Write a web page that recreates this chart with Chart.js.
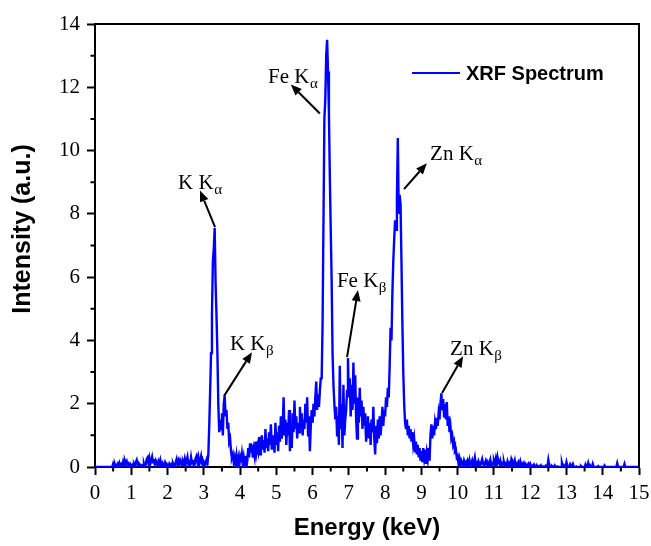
<!DOCTYPE html>
<html><head><meta charset="utf-8">
<script src="https://cdn.jsdelivr.net/npm/chart.js@4"></script>
<style>html,body{margin:0;padding:0;background:#fff}#wrap{width:651px;height:546px;position:relative}</style>
</head><body><div id="wrap"><canvas id="c"></canvas></div>
<script>
// Detector calibration: channel i is at channelStartKeV + i * channelWidthKeV
const channelStartKeV = 0;
const channelWidthKeV = 0.025;

// Intensity (a.u.) per channel (20 channels = 0.5 keV per row)
const intensity = [
  0,0,0,0,0,0,0,0,0,0,0,0,0,0,0,0,0,0,0,0,
  0.1,0.02,0.08,0,0.05,0.1,0,0.12,0.03,0.08,0,0.15,0.05,0.2,0.12,0.18,0.05,0.1,0,0.08,
  0.02,0.06,0,0.1,0.04,0.15,0.22,0.08,0.12,0.03,0.06,0,0.05,0.02,0.1,0,0.08,0.25,0.3,0.12,
  0.28,0.1,0.2,0.32,0.15,0.25,0.08,0.2,0.12,0.05,0.18,0.1,0.22,0.06,0.12,0.02,0.08,0.15,0.05,0.1,
  0.06,0,0.1,0.04,0.08,0.02,0.12,0.05,0,0.15,0.25,0.1,0.2,0.08,0.22,0.15,0.05,0.18,0.1,0.25,
  0.08,0.2,0.32,0.1,0.15,0.05,0.3,0.12,0.22,0.02,0.1,0.28,0.35,0.15,0.3,0.08,0.2,0.34,0.12,0.05,
  0.15,0.05,0.12,0.22,0.1,0.4,1.3,2.4,3.6,4.8,6.5,6.9,7.55,5.8,4.8,3.6,2.0,1.1,1.5,1.2,
  1.7,1.0,2.0,2.25,1.6,1.8,1.2,1.4,0.8,0.9,0.5,0.3,0.4,0.15,0.3,0.1,0.35,0.05,0.25,0,
  0.3,0.15,0.4,0.1,0.3,0.05,0.35,0,0.2,0.6,0.3,0.75,0.45,0.7,0.3,0.55,0.35,0.8,0.45,0.65,
  0.5,0.95,0.4,0.7,1.0,0.55,0.85,0.45,1.2,0.6,0.9,0.5,1.1,0.7,1.35,0.55,0.8,1.0,0.45,1.4,
  0.7,1.1,0.5,1.3,0.8,1.6,0.9,1.2,2.2,1.0,1.5,0.7,1.4,1.0,1.8,0.5,1.3,0.6,1.7,1.1,
  2.1,1.2,1.6,0.9,1.4,1.1,1.9,1.3,1.7,1.0,1.5,1.2,2.0,1.4,2.2,1.0,1.6,0.5,1.3,1.8,
  1.4,2.0,1.6,2.2,2.7,1.8,2.3,1.9,2.4,2.8,2.8,4.5,7.8,11.0,11.6,13.0,13.5,12.5,11.2,9.2,
  7.5,5.9,3.6,2.6,2.0,1.5,1.9,1.0,1.6,0.7,3.2,1.2,2.0,0.6,2.6,1.0,1.5,1.8,2.4,3.44,
  2.2,2.8,1.6,2.6,1.8,3.3,2.0,2.9,1.5,0.9,2.2,1.4,2.5,1.6,2.1,1.2,1.9,1.3,1.7,0.8,
  1.2,1.6,0.9,1.4,0.7,1.5,1.1,1.9,0.9,0.4,1.3,0.75,1.5,0.9,1.6,1.0,1.4,1.9,1.3,1.8,
  1.6,2.2,1.9,2.5,2.2,3.2,4.4,4.0,5.5,6.5,7.2,7.8,7.5,8.5,10.4,8.0,8.6,8.3,6.5,4.6,
  3.0,2.0,1.4,1.2,1.5,1.0,1.3,0.9,1.2,0.8,1.1,0.7,0.9,0.5,0.8,0.4,0.7,0.3,0.6,0.2,
  0.5,0.15,0.6,0.3,0.55,0.1,0.45,0.25,0.6,0.2,1.0,1.35,0.9,1.3,1.0,1.4,1.2,1.55,1.3,1.7,
  1.5,2.0,2.33,1.8,2.15,1.6,2.0,1.5,2.05,1.3,1.6,1.1,1.3,0.9,1.0,0.7,0.8,0.5,0.55,0.3,
  0.35,0.1,0.25,0.05,0.2,0.12,0.05,0.2,0.1,0.15,0.03,0.18,0.08,0.22,0.05,0.1,0.2,0.05,0.15,0.3,
  0.08,0.12,0.02,0.18,0.1,0.05,0.15,0.25,0.1,0.05,0.12,0.2,0.08,0.15,0.02,0.1,0.22,0.05,0.12,0.08,
  0.2,0.1,0.25,0.05,0.3,0.15,0.1,0.2,0.05,0.12,0.08,0.15,0.02,0.1,0.05,0.18,0.08,0.12,0.03,0.2,
  0.05,0.15,0.08,0.2,0.02,0.1,0.05,0.15,0.08,0.18,0.03,0.1,0.05,0.12,0.02,0.08,0,0.05,0.1,0.03,
  0.1,0.02,0,0.05,0.08,0,0.02,0.06,0,0,0.03,0,0.05,0,0.02,0,0,0.04,0,0,
  0.22,0.05,0,0,0.03,0,0,0.05,0,0,0.02,0,0,0,0,0.12,0,0.05,0,0,
  0.15,0.03,0,0,0.08,0,0,0.1,0,0,0,0.02,0,0,0,0,0.03,0,0,0,
  0,0.08,0,0,0.12,0,0.05,0,0,0.1,0,0,0,0,0,0.03,0,0,0,0,
  0,0,0.05,0,0,0,0,0,0,0,0,0,0,0,0,0,0.12,0,0,0,
  0,0,0,0,0.1,0,0,0,0,0,0,0,0,0,0,0,0,0,0,0,
  0
];

const seriesLabel = 'XRF Spectrum';
const xTitle = 'Energy (keV)';
const yTitle = 'Intensity (a.u.)';

// Peak annotations in data coordinates [keV, intensity]
const peakNames = ['K K', 'K K', 'Fe K', 'Fe K', 'Zn K', 'Zn K'];
const peakSubs  = ['α', 'β', 'α', 'β', 'α', 'β'];
const peakTextAt   = [[2.29,8.78],[3.72,3.69],[4.77,12.15],[6.67,5.68],[9.24,9.69],[9.79,3.54]];
const peakArrowFrom= [[3.31,7.58],[3.556,2.24],[6.20,11.17],[6.95,3.47],[8.52,8.78],[9.57,2.34]];
const peakArrowTo  = [[2.895,8.74],[4.33,3.63],[5.40,12.09],[7.25,5.59],[9.15,9.60],[10.15,3.50]];

const points = intensity.map((v, i) => ({ x: channelStartKeV + i * channelWidthKeV, y: v }));

const SERIF = '"Liberation Serif", "Times New Roman", serif';
const SANS = '"Liberation Sans", Arial, sans-serif';
const BLUE = '#0000ff';

function drawArrow(ctx, x1, y1, x2, y2) {
  const ang = Math.atan2(y2 - y1, x2 - x1);
  const hl = 11, hw = 4.5;
  const bx = x2 - hl * Math.cos(ang), by = y2 - hl * Math.sin(ang);
  ctx.beginPath(); ctx.moveTo(x1, y1); ctx.lineTo(bx, by); ctx.stroke();
  ctx.beginPath();
  ctx.moveTo(x2, y2);
  ctx.lineTo(bx + hw * Math.sin(ang), by - hw * Math.cos(ang));
  ctx.lineTo(bx - hw * Math.sin(ang), by + hw * Math.cos(ang));
  ctx.closePath(); ctx.fill();
}

const decor = {
  id: 'decor',
  afterDraw(chart) {
    const { ctx, chartArea: a, scales: { x, y } } = chart;
    ctx.save();
    ctx.strokeStyle = '#000'; ctx.fillStyle = '#000'; ctx.lineWidth = 2;
    // frame top and right
    ctx.beginPath();
    ctx.moveTo(a.left - 1, a.top); ctx.lineTo(a.right, a.top); ctx.lineTo(a.right, a.bottom + 1);
    ctx.stroke();
    // minor ticks
    ctx.beginPath();
    for (let v = 0.5; v < 15; v += 1) {
      const px = x.getPixelForValue(v);
      ctx.moveTo(px, a.bottom); ctx.lineTo(px, a.bottom + 4.5);
    }
    for (let v = 1; v < 14; v += 2) {
      const py = y.getPixelForValue(v);
      ctx.moveTo(a.left, py); ctx.lineTo(a.left - 4.5, py);
    }
    ctx.stroke();
    // y axis title
    ctx.save();
    ctx.translate(23, a.top + 205);
    ctx.rotate(-Math.PI / 2);
    ctx.font = 'bold 25px ' + SANS;
    ctx.textAlign = 'center'; ctx.textBaseline = 'middle';
    ctx.fillText(yTitle, 0, 0);
    ctx.restore();
    // annotations
    ctx.lineWidth = 2;
    for (let i = 0; i < peakNames.length; i++) {
      drawArrow(ctx, x.getPixelForValue(peakArrowFrom[i][0]), y.getPixelForValue(peakArrowFrom[i][1]),
                     x.getPixelForValue(peakArrowTo[i][0]), y.getPixelForValue(peakArrowTo[i][1]));
      const tx = x.getPixelForValue(peakTextAt[i][0]);
      const ty = y.getPixelForValue(peakTextAt[i][1]);
      ctx.textBaseline = 'alphabetic'; ctx.textAlign = 'left';
      ctx.font = '21px ' + SERIF;
      ctx.fillText(peakNames[i], tx, ty);
      const w = ctx.measureText(peakNames[i]).width;
      ctx.font = '15px ' + SERIF;
      ctx.fillText(peakSubs[i], tx + w + 0.5, ty + 5);
    }
    // legend
    const lx = a.left + 317, ly = a.top + 49;
    ctx.strokeStyle = BLUE; ctx.lineWidth = 2;
    ctx.beginPath(); ctx.moveTo(lx, ly); ctx.lineTo(lx + 48, ly); ctx.stroke();
    ctx.fillStyle = '#000';
    ctx.font = 'bold 20px ' + SANS;
    ctx.textBaseline = 'middle';
    ctx.fillText(chart.data.datasets[0].label, lx + 54, ly + 1);
    ctx.restore();
  }
};

const tickGrid = { display: true, drawOnChartArea: false, drawTicks: true, tickLength: 8, tickWidth: 2, tickColor: '#000', color: '#000' };

new Chart(document.getElementById('c'), {
  type: 'line',
  data: { datasets: [{ label: seriesLabel, data: points, borderColor: BLUE, borderWidth: 2.4, pointRadius: 0, tension: 0, fill: false }] },
  options: {
    responsive: true, maintainAspectRatio: false, animation: false,
    layout: { padding: { left: 0, top: 24, right: 12, bottom: 0 } },
    plugins: { legend: { display: false }, tooltip: { enabled: false } },
    scales: {
      x: {
        type: 'linear', min: 0, max: 15,
        ticks: { stepSize: 1, color: '#000', font: { family: SERIF, size: 21 }, padding: 6, maxRotation: 0 },
        grid: tickGrid, border: { display: true, color: '#000', width: 2 },
        title: { display: true, text: xTitle, color: '#000', font: { family: SANS, size: 24, weight: 'bold' }, padding: { top: 0, bottom: 3 } },
        afterFit(s) { s.height = 79; s.paddingRight = 0; s.paddingLeft = 0; }
      },
      y: {
        type: 'linear', min: 0, max: 14,
        ticks: { stepSize: 2, color: '#000', font: { family: SERIF, size: 21 }, padding: 7 },
        grid: tickGrid, border: { display: true, color: '#000', width: 2 },
        title: { display: false },
        afterFit(s) { s.width = 95; s.paddingTop = 0; s.paddingBottom = 0; }
      }
    }
  },
  plugins: [decor]
});
</script>
</body></html>
